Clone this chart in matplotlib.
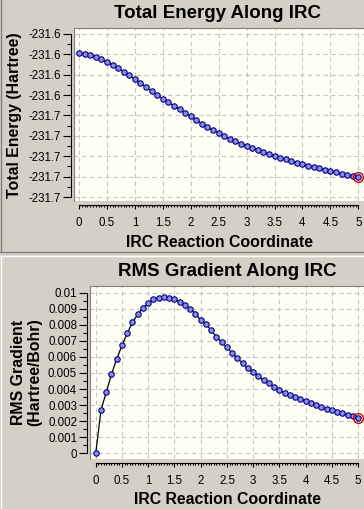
import matplotlib
matplotlib.use("Agg")
import numpy as np
import matplotlib.pyplot as plt
from matplotlib.lines import Line2D

# IRC reaction coordinate (same 51 points for both panels)
irc_coord = [0.0, 0.1, 0.2, 0.3, 0.4, 0.5, 0.6, 0.7, 0.8, 0.9,
             1.0, 1.1, 1.2, 1.3, 1.4, 1.5, 1.6, 1.7, 1.8, 1.9,
             2.0, 2.1, 2.2, 2.3, 2.4, 2.5, 2.6, 2.7, 2.8, 2.9,
             3.0, 3.1, 3.2, 3.3, 3.4, 3.5, 3.6, 3.7, 3.8, 3.9,
             4.0, 4.1, 4.2, 4.3, 4.4, 4.5, 4.6, 4.7, 4.8, 4.9, 5.0]

# total energy (Hartree)
total_energy = [-231.61946, -231.61995, -231.62044, -231.62113, -231.62225,
                -231.62373, -231.62520, -231.62681, -231.62848, -231.63025,
                -231.63221, -231.63402, -231.63613, -231.63809, -231.64005,
                -231.64180, -231.64348, -231.64525, -231.64701, -231.64873,
                -231.65049, -231.65225, -231.65412, -231.65574, -231.65721,
                -231.65868, -231.66015, -231.66150, -231.66270, -231.66390,
                -231.66500, -231.66600, -231.66700, -231.66800, -231.66890,
                -231.66980, -231.67070, -231.67150, -231.67230, -231.67310,
                -231.67390, -231.67460, -231.67530, -231.67600, -231.67660,
                -231.67730, -231.67790, -231.67850, -231.67910, -231.67970,
                -231.68020]

# RMS gradient (Hartree/Bohr)
rms_gradient = [0.0, 0.00268, 0.00380, 0.00492, 0.00587, 0.00672, 0.00747,
                0.00815, 0.00865, 0.00906, 0.00934, 0.00961, 0.00969, 0.00971,
                0.00969, 0.00958, 0.00943, 0.00923, 0.00900, 0.00869, 0.00830,
                0.00804, 0.00765, 0.00726, 0.00691, 0.00660, 0.00624, 0.00591,
                0.00560, 0.00529, 0.00504, 0.00479, 0.00456, 0.00436, 0.00413,
                0.00394, 0.00375, 0.00361, 0.00352, 0.00340, 0.00324, 0.00311,
                0.00302, 0.00288, 0.00278, 0.00268, 0.00257, 0.00249, 0.00240,
                0.00234, 0.00222]

x_ticks = [0, 0.5, 1, 1.5, 2, 2.5, 3, 3.5, 4, 4.5, 5]
x_tick_labels = ['0', '0.5', '1', '1.5', '2', '2.5', '3', '3.5', '4', '4.5', '5']

energy_ticks = [-231.61, -231.62, -231.63, -231.64, -231.65,
                -231.66, -231.67, -231.68, -231.69]
energy_tick_labels = ['-231.6', '-231.6', '-231.6', '-231.6', '-231.7',
                      '-231.7', '-231.7', '-231.7', '-231.7']

grad_ticks = [0, 0.001, 0.002, 0.003, 0.004, 0.005, 0.006, 0.007, 0.008, 0.009, 0.01]
grad_tick_labels = ['0', '0.001', '0.002', '0.003', '0.004', '0.005',
                    '0.006', '0.007', '0.008', '0.009', '0.01']

W, H = 364, 509
BG = '#d4d0c8'
PX = 0.72  # points per pixel at dpi 100
plt.rcParams['font.family'] = ['Liberation Sans', 'DejaVu Sans']


def fx(x):
    return x / W


def fy(y):
    return 1 - y / H


def draw_panel(ax, values, yticks, ylabels, ylim, xlim, yminor_step):
    ax.set_facecolor('#fffff6')
    ax.plot(irc_coord, values, color='black', lw=0.9, zorder=3)
    ax.plot(irc_coord, values, ls='none', marker='o', ms=3.9,
            mfc='#8c8ce6', mec='#000080', mew=0.8, zorder=4)
    ax.plot(irc_coord[-1], values[-1], ls='none', marker='o', ms=7,
            mfc='none', mec='#d00000', mew=1.0, zorder=5)
    ax.set_xlim(xlim)
    ax.set_ylim(ylim)

    ax.set_xticks(x_ticks)
    ax.set_xticklabels(x_tick_labels)
    ax.set_xticks(np.arange(0, 5.001, 0.05), minor=True)
    ax.set_yticks(yticks)
    ax.set_yticklabels(ylabels)
    ax.set_yticks(np.arange(min(yticks), max(yticks) + 1e-9, yminor_step), minor=True)

    ax.grid(True, which='major', color='#c4c4c4', ls=(0, (4, 3)), lw=0.8)
    ax.set_axisbelow(True)

    ax.spines['right'].set_visible(False)
    ax.spines['top'].set_color('#808080')
    ax.spines['top'].set_linewidth(0.8)
    ax.spines['left'].set_position(('outward', 3.5 * PX))
    ax.spines['left'].set_bounds(min(yticks), max(yticks))
    ax.spines['left'].set_linewidth(0.8)
    ax.spines['bottom'].set_position(('outward', 4 * PX))
    ax.spines['bottom'].set_bounds(0, 5)
    ax.spines['bottom'].set_linewidth(0.8)
    ax.add_line(Line2D([0, 0], [0, 1], transform=ax.transAxes,
                       color='#808080', lw=0.8, clip_on=False))

    ax.tick_params(axis='y', which='major', length=8 * PX, width=0.8,
                   pad=1, labelsize=8.3)
    ax.tick_params(axis='y', which='minor', length=4 * PX, width=0.8)
    ax.tick_params(axis='x', which='major', length=4 * PX, width=0.8,
                   pad=6, labelsize=8.3)
    ax.tick_params(axis='x', which='minor', length=2.5 * PX, width=0.8)


fig = plt.figure(figsize=(W / 100, H / 100), dpi=100, facecolor=BG)

ax1 = fig.add_axes([fx(74), fy(201), fx(290), 173 / H])
draw_panel(ax1, total_energy, energy_ticks, energy_tick_labels,
           (-231.69196, -231.60706), (-0.0895, 5.102), 0.005)

ax2 = fig.add_axes([fx(90), fy(459), fx(274), 173 / H])
draw_panel(ax2, rms_gradient, grad_ticks, grad_tick_labels,
           (-0.000355, 0.010417), (-0.109, 5.11), 0.0005)

# titles and axis labels
bold = dict(fontweight='bold', ha='center', va='center', color='black')
fig.text(fx(218), fy(14), 'Total Energy Along IRC', fontsize=13.5, **bold)
fig.text(fx(220), fy(242.5), 'IRC Reaction Coordinate', fontsize=11.4, **bold)
fig.text(fx(15), fy(115), 'Total Energy (Hartree)', fontsize=11.4, rotation=90, **bold)

fig.text(fx(227), fy(271), 'RMS Gradient Along IRC', fontsize=13.5, **bold)
fig.text(fx(228), fy(500), 'IRC Reaction Coordinate', fontsize=11.4, **bold)
fig.text(fx(27), fy(372), 'RMS Gradient\n(Hartree/Bohr)', fontsize=11.4,
         rotation=90, linespacing=1.1, multialignment='center', **bold)

# panel borders
fig.add_artist(Line2D([0, 1], [fy(252), fy(252)], color='#808080', lw=1))
fig.add_artist(Line2D([0, 1], [fy(256), fy(256)], color='white', lw=1))
fig.add_artist(Line2D([fx(1), fx(1)], [fy(0), fy(252)], color='#808080', lw=1))
fig.add_artist(Line2D([fx(1), fx(1)], [fy(256), fy(509)], color='white', lw=1))

fig.savefig('out.png', dpi=100, facecolor=BG)
